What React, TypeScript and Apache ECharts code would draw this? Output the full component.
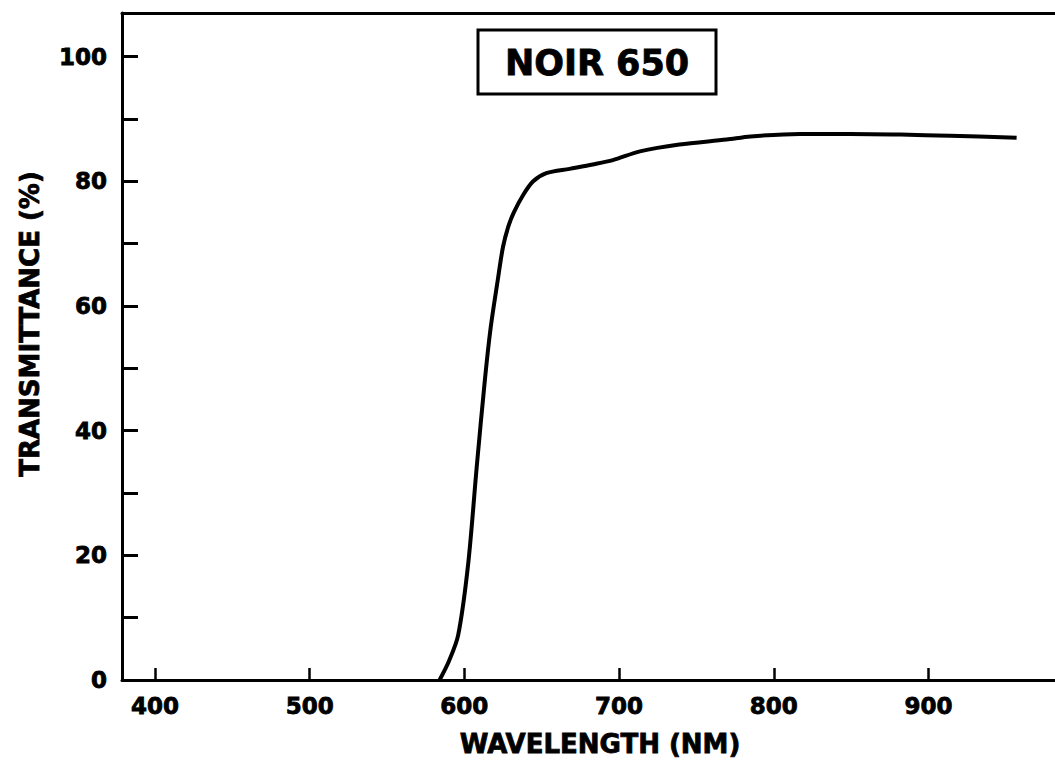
import React, { useEffect, useRef } from "react";
import * as echarts from "echarts";

const wavelengths = [584, 590, 596, 602.5, 608, 613.3, 617, 621.5, 625, 628.5, 632, 638, 644.5, 653, 668, 683, 696, 713.5, 739, 769.5, 785, 817, 849, 882, 914, 957];
const transmittance = [0, 3, 7.2, 18.7, 34.2, 48.2, 56.5, 64.0, 69.5, 72.8, 75.0, 77.8, 80.0, 81.3, 82.0, 82.7, 83.4, 84.8, 85.9, 86.7, 87.2, 87.6, 87.6, 87.5, 87.3, 87.0];
const xTickValues = [400, 500, 600, 700, 800, 900];
const yTickValues = [10, 20, 30, 40, 50, 60, 70, 80, 90, 100];
const yLabelValues = [0, 20, 40, 60, 80, 100];
const title = "NOIR 650";
const xName = "WAVELENGTH (NM)";
const yName = "TRANSMITTANCE (%)";

const FONT = "'DejaVu Sans', sans-serif";
const heavy = { textBorderColor: "#000", textBorderWidth: 0.8 };
const heavyG = { stroke: "#000", lineWidth: 0.8 };

export default function App() {
  const ref = useRef<HTMLDivElement>(null);
  useEffect(() => {
    if (!ref.current) return;
    const chart = echarts.init(ref.current, undefined, { renderer: "svg" });
    const data = wavelengths.map((w, i) => [w, transmittance[i]]);
    chart.setOption({
      animation: false,
      backgroundColor: "#ffffff",
      grid: { left: 122, right: 0, top: 13, bottom: 86 },
      xAxis: [
        {
          type: "value",
          min: 378.7,
          max: 981.8,
          splitLine: { show: false },
          axisLine: { lineStyle: { color: "#000", width: 3 } },
          axisTick: { inside: true, length: 12, customValues: xTickValues, lineStyle: { color: "#000", width: 2.5 } },
          axisLabel: { customValues: xTickValues, margin: 14, color: "#000", fontFamily: FONT, fontWeight: "bold", fontSize: 23, ...heavy },
        },
        {
          type: "value",
          position: "top",
          min: 378.7,
          max: 981.8,
          splitLine: { show: false },
          axisLine: { show: true, lineStyle: { color: "#000", width: 3 } },
          axisTick: { show: false },
          axisLabel: { show: false },
        },
      ],
      yAxis: {
        type: "value",
        min: 0,
        max: 107,
        splitLine: { show: false },
        axisLine: { show: true, lineStyle: { color: "#000", width: 3 } },
        axisTick: { show: true, inside: true, length: 16, customValues: yTickValues, lineStyle: { color: "#000", width: 3 } },
        axisLabel: { customValues: yLabelValues, margin: 15, color: "#000", fontFamily: FONT, fontWeight: "bold", fontSize: 23, ...heavy },
      },
      series: [
        {
          type: "line",
          data,
          smooth: 0.3,
          showSymbol: false,
          lineStyle: { color: "#000", width: 4 },
        },
      ],
      graphic: [
        {
          type: "rect",
          shape: { x: 478, y: 30, width: 238, height: 64 },
          style: { fill: "#fff", stroke: "#000", lineWidth: 3 },
        },
        {
          type: "text",
          x: 597,
          y: 63,
          style: { text: title, fontFamily: FONT, fontWeight: "bold", fontSize: 35, fill: "#000", align: "center", verticalAlign: "middle", ...heavyG },
        },
        {
          type: "text",
          x: 600,
          y: 744,
          style: { text: xName, fontFamily: FONT, fontWeight: "bold", fontSize: 26, fill: "#000", align: "center", verticalAlign: "middle", ...heavyG },
        },
        {
          type: "text",
          x: 30,
          y: 324,
          rotation: Math.PI / 2,
          style: { text: yName, fontFamily: FONT, fontWeight: "bold", fontSize: 26, fill: "#000", align: "center", verticalAlign: "middle", ...heavyG },
        },
      ],
    });
    return () => chart.dispose();
  }, []);
  return <div ref={ref} style={{ position: "fixed", left: 0, top: 0, width: 1055, height: 766 }} />;
}
